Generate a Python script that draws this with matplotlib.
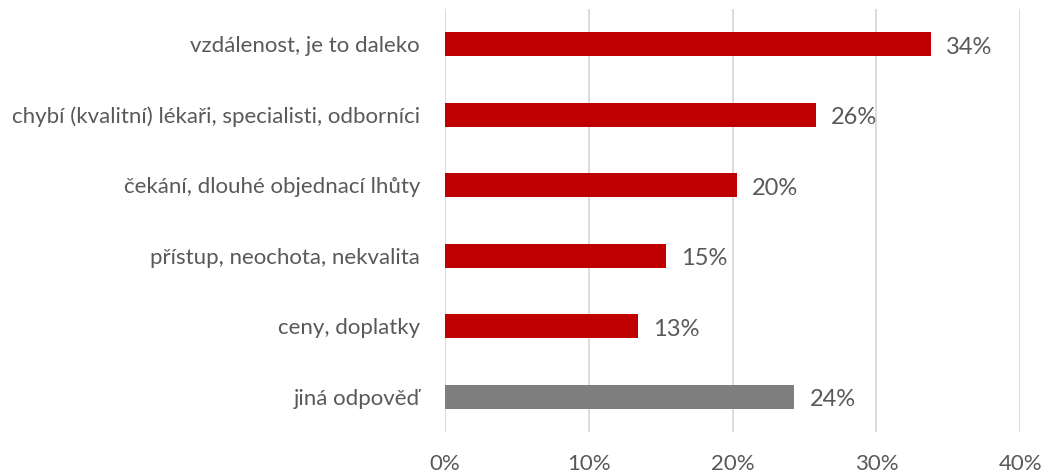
import matplotlib
matplotlib.use("Agg")
import matplotlib.pyplot as plt
from matplotlib.ticker import PercentFormatter

# data (share of respondents)
categories = [
    "vzdálenost, je to daleko",
    "chybí (kvalitní) lékaři, specialisti, odborníci",
    "čekání, dlouhé objednací lhůty",
    "přístup, neochota, nekvalita",
    "ceny, doplatky",
    "jiná odpověď",
]
values = [0.338, 0.258, 0.203, 0.154, 0.134, 0.243]
colors = ["#c00000"] * 5 + ["#7f7f7f"]

TEXT = "#595959"
plt.rcParams["font.family"] = ["Lato", "DejaVu Sans"]

fig = plt.figure(figsize=(10.41, 4.75), dpi=100)
ax = fig.add_axes([0.4275, 0.0905, 0.5525, 0.8905])

ypos = list(range(len(categories)))[::-1]
ax.barh(ypos, values, height=0.34, color=colors, zorder=3)
for y, v in zip(ypos, values):
    ax.annotate(f"{round(v * 100):.0f}%", (v, y), xytext=(15, -3),
                textcoords="offset pixels", va="center", ha="left",
                fontsize=17, color=TEXT)

ax.set_xlim(0, 0.40)
ax.set_ylim(-0.5, len(categories) - 0.5)
ax.set_xticks([0, 0.1, 0.2, 0.3, 0.4])
ax.xaxis.set_major_formatter(PercentFormatter(1.0, decimals=0))
ax.set_yticks(ypos)
ax.set_yticklabels(categories)
ax.tick_params(axis="y", length=0, pad=18, labelsize=16, labelcolor=TEXT)
ax.tick_params(axis="x", length=0, pad=16, labelsize=16, labelcolor=TEXT)
ax.grid(axis="x", color="#d9d9d9", linewidth=1.3, zorder=0)
for s in ax.spines.values():
    s.set_visible(False)

fig.savefig("out.png", dpi=100)
